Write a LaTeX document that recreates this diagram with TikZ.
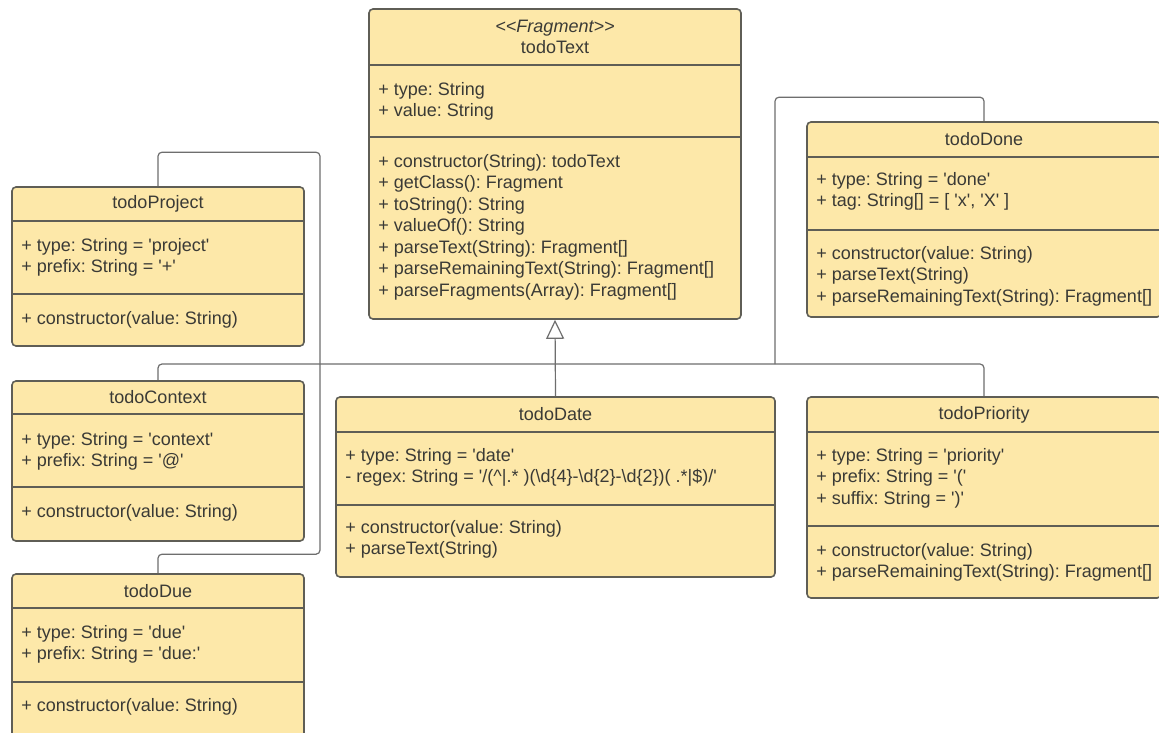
\documentclass[tikz,border=0pt]{standalone}
\usepackage{fontspec}
\setmainfont{Liberation Sans}[Ligatures=TeXOff]
\frenchspacing
\usetikzlibrary{arrows.meta,fit}

\definecolor{classfill}{HTML}{FDE8A9}
\definecolor{classline}{HTML}{5F5E56}
\definecolor{wireline}{HTML}{6E6E6E}
\definecolor{classtext}{HTML}{3A3A36}

\begin{document}
\begin{tikzpicture}[x=0.5pt,y=-0.5pt,
  classbox/.style={draw=classline,fill=classfill,line width=0.8pt,rounded corners=2pt,inner sep=0pt},
  divider/.style={draw=classline,line width=0.8pt},
  title/.style={text=classtext,font=\fontsize{9}{10.75}\selectfont\frenchspacing,inner sep=0pt,align=center},
  members/.style={anchor=north west,align=left,text=classtext,font=\fontsize{9}{10.75}\selectfont\frenchspacing,inner sep=0pt},
  wire/.style={draw=wireline,line width=0.6pt,rounded corners=2pt},
  inherit/.style={wire,-{Triangle[open,length=9.5pt,width=9pt,fill=white]}}]

%white page
\fill[white] (0,0) rectangle (1159,732);
\useasboundingbox (0,0) rectangle (1159,732);

%drawing the todoText box
\node[classbox,fit={(369,9) (741,319)}] (todotext) {};
\draw[divider] (369,65) -- (741,65);
\draw[divider] (369,137) -- (741,137);
\node[title] (todotexttitle) at (555,37) {\itshape <<Fragment>>\\todoText};
\node[members] (todotextattr) at (378,82) {+ type: String\\+ value: String};
\node[members] (todotextops) at (378,154) {+ constructor(String): todoText\\+ getClass(): Fragment\\+ toString(): String\\+ valueOf(): String\\+ parseText(String): Fragment[]\\+ parseRemainingText(String): Fragment[]\\+ parseFragments(Array): Fragment[]};

%drawing the todoProject box
\node[classbox,fit={(12,187) (304,346)}] (project) {};
\draw[divider] (12,221) -- (304,221);
\draw[divider] (12,294) -- (304,294);
\node[title] (projecttitle) at (158,204) {todoProject};
\node[members] (projectattr) at (21,238) {+ type: String = 'project'\\+ prefix: String = '+'};
\node[members] (projectops) at (21,311) {+ constructor(value: String)};

%drawing the todoContext box
\node[classbox,fit={(12,381) (304,541)}] (context) {};
\draw[divider] (12,414) -- (304,414);
\draw[divider] (12,487) -- (304,487);
\node[title] (contexttitle) at (158,397.5) {todoContext};
\node[members] (contextattr) at (21,432) {+ type: String = 'context'\\+ prefix: String = '@'};
\node[members] (contextops) at (21,504) {+ constructor(value: String)};

%drawing the todoDue box
\node[classbox,fit={(12,574) (304,750)}] (due) {};
\draw[divider] (12,608) -- (304,608);
\draw[divider] (12,682) -- (304,682);
\node[title] (duetitle) at (158,591) {todoDue};
\node[members] (dueattr) at (21,625) {+ type: String = 'due'\\+ prefix: String = 'due:'};
\node[members] (dueops) at (21,698) {+ constructor(value: String)};

%drawing the todoDate box
\node[classbox,fit={(336,397) (775,577)}] (date) {};
\draw[divider] (336,432) -- (775,432);
\draw[divider] (336,505) -- (775,505);
\node[title] (datetitle) at (555.5,414.5) {todoDate};
\node[members] (dateattr) at (345,448) {+ type: String = 'date'\\- regex: String = '/(\textasciicircum|.* )(\textbackslash d\{4\}-\textbackslash d\{2\}-\textbackslash d\{2\})( .*|\$)/'};
\node[members] (dateops) at (345,520) {+ constructor(value: String)\\+ parseText(String)};

%drawing the todoDone box
\node[classbox,fit={(807,122) (1161,317)}] (done) {};
\draw[divider] (807,157) -- (1161,157);
\draw[divider] (807,230) -- (1161,230);
\node[title] (donetitle) at (984,139.5) {todoDone};
\node[members] (doneattr) at (816,172) {+ type: String = 'done'\\+ tag: String[] = [ 'x', 'X' ]};
\node[members] (doneops) at (816,246) {+ constructor(value: String)\\+ parseText(String)\\+ parseRemainingText(String): Fragment[]};

%drawing the todoPriority box
\node[classbox,fit={(807,397) (1161,598)}] (priority) {};
\draw[divider] (807,432) -- (1161,432);
\draw[divider] (807,526) -- (1161,526);
\node[title] (prioritytitle) at (984,414.5) {todoPriority};
\node[members] (priorityattr) at (816,448) {+ type: String = 'priority'\\+ prefix: String = '('\\+ suffix: String = ')'};
\node[members] (priorityops) at (816,543) {+ constructor(value: String)\\+ parseRemainingText(String): Fragment[]};

%points where the wires meet
\coordinate (hub) at (555,364);
\coordinate (leftbus) at (320,364);
\coordinate (rightbus) at (775,364);

%wires from the subclasses to the hub
\draw[wire] (context.north) |- (hub);
\draw[wire] (priority.north) |- (hub);
\draw[wire] (project.north) -- ++(0,-34) -| (leftbus);
\draw[wire] (due.north) -- ++(0,-19) -| (leftbus);
\draw[wire] (done.north) -- ++(0,-24) -| (rightbus);

%generalisation arrow up to todoText
\draw[inherit] (date.north) -- (todotext.south);

\end{tikzpicture}
\end{document}
